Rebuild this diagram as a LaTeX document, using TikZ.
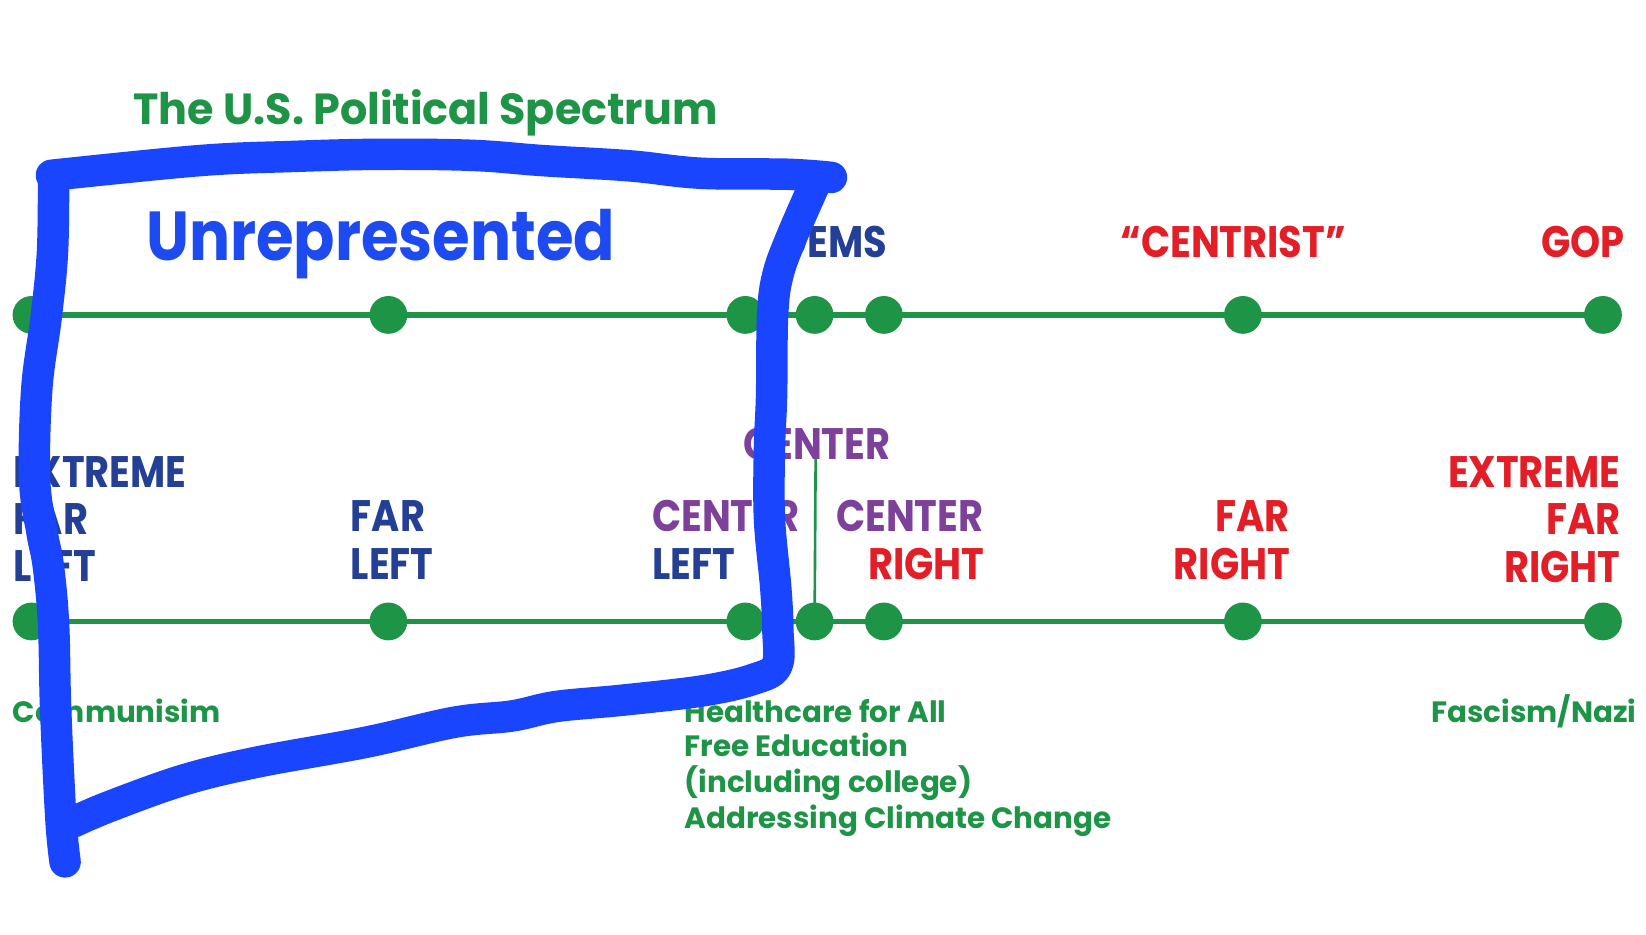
\documentclass[tikz,border=0pt]{standalone}
\usepackage{fontspec}
\setmainfont{Poppins}
\newfontfamily\titlef{Poppins}[FakeStretch=0.985]
\newfontfamily\labf{Poppins}[FakeStretch=0.87]
\newfontfamily\unrepf{Poppins}[FakeStretch=0.88]
\newfontfamily\smallf{Poppins}
\definecolor{spgreen}{RGB}{30,148,70}
\definecolor{spnavy}{RGB}{35,63,150}
\definecolor{spred}{RGB}{228,30,38}
\definecolor{sppurple}{RGB}{125,65,155}
\definecolor{spblue}{RGB}{26,69,255}
\definecolor{unrepblue}{RGB}{30,75,240}
\begin{document}
\begin{tikzpicture}[x=1pt,y=-1pt,
  dot/.style={circle,fill=spgreen,minimum size=36pt,inner sep=0pt},
  gline/.style={spgreen,line width=5pt},
  lab/.style={inner sep=0pt,font=\labf\bfseries\fontsize{42}{42}\selectfont},
  note/.style={inner sep=0pt,text=spgreen,font=\smallf\bfseries\fontsize{28}{28}\selectfont},
  bluestroke/.style={spblue,line width=30pt,line cap=round,line join=round}]
\fill[white] (0,0) rectangle (1568,890);
\useasboundingbox (0,0) rectangle (1568,890);

% title
\node[inner sep=0pt,anchor=base west,text=spgreen,font=\titlef\bfseries\fontsize{41.5}{42}\selectfont] (title) at (127,119) {The U.S. Political Spectrum};
\node[inner sep=0pt,anchor=base west,text=unrepblue,font=\unrepf\bfseries\fontsize{66}{66}\selectfont] (unrep) at (139,248) {Unrepresented};

% lines and dots
\foreach \n/\x in {1/30,2/370,3/710,4/776,5/842,6/1184,7/1527} {
  \coordinate (t\n) at (\x,300);
  \coordinate (b\n) at (\x,592);
}
\draw[gline] (t1) -- (t7);
\draw[gline] (b1) -- (b7);
\foreach \n in {1,...,7} {
  \node[dot] (td\n) at (t\n) {};
  \node[dot] (bd\n) at (b\n) {};
}
\coordinate (vtop) at (777,434);
\draw[spgreen,line width=2.5pt] (vtop) -- (bd4.center);

% top labels
\node[lab,anchor=base east,text=spnavy] (dems) at (845,245) {DEMS};
\node[lab,anchor=base west,text=spred] (centrist) at (1067,245) {“CENTRIST”};
\node[lab,anchor=base east,text=spred] (gop) at (1548,245) {GOP};

% bottom labels
\node[lab,anchor=base west,text=spnavy] (efl1) at (13,464) {EXTREME};
\node[lab,anchor=base west,text=spnavy] (efl2) at (13,509) {FAR};
\node[lab,anchor=base west,text=spnavy] (efl3) at (13,554) {LEFT};
\node[lab,anchor=base west,text=spnavy] (fl1) at (334,506) {FAR};
\node[lab,anchor=base west,text=spnavy] (fl2) at (334,552) {LEFT};
\node[lab,anchor=base west,text=sppurple] (cl1) at (621,506) {CENTER};
\node[lab,anchor=base west,text=spnavy] (cl2) at (621,552) {LEFT};
\node[lab,anchor=base,text=sppurple] (ctr) at (778,438) {CENTER};
\node[lab,anchor=base east,text=sppurple] (cr1) at (937,506) {CENTER};
\node[lab,anchor=base east,text=spred] (cr2) at (938,552) {RIGHT};
\node[lab,anchor=base east,text=spred] (fr1) at (1229,506) {FAR};
\node[lab,anchor=base east,text=spred] (fr2) at (1229,552) {RIGHT};
\node[lab,anchor=base east,text=spred] (efr1) at (1544,464) {EXTREME};
\node[lab,anchor=base east,text=spred] (efr2) at (1544,509) {FAR};
\node[lab,anchor=base east,text=spred] (efr3) at (1544,555) {RIGHT};

% notes
\node[note,anchor=base west] (comm) at (12,688) {Communisim};
\node[note,anchor=base west] (n1) at (652,688) {Healthcare for All};
\node[note,anchor=base west] (n2) at (652,721) {Free Education};
\node[note,anchor=base west] (n3) at (652,755) {(including college)};
\node[note,anchor=base west] (n4) at (652,789) {Addressing Climate Change};
\node[note,anchor=base east] (fasc) at (1559,688) {Fascism/Nazi};

% hand-drawn blue outline
\draw[bluestroke] plot[smooth,tension=0.6] coordinates {(62,821) (58,780) (53,675) (51,594) (46,539) (40,507) (33,457) (35,371) (44,302) (50,240) (51,172)};
\draw[bluestroke] plot[smooth,tension=0.6] coordinates {(49,167) (190,153) (280,149) (362,147) (450,148) (517,153) (600,158) (667,165) (750,166) (792,169)};
\draw[bluestroke] plot[smooth,tension=0.6] coordinates {(775,178) (754,226) (741,262) (736,300) (735,377) (733,427) (733,494) (739,560) (741,600) (740,634) (718,647) (670,658) (593,667) (530,673) (488,682) (433,688) (349,707) (245,726) (175,743) (105,768) (70,783)};
\end{tikzpicture}
\end{document}
